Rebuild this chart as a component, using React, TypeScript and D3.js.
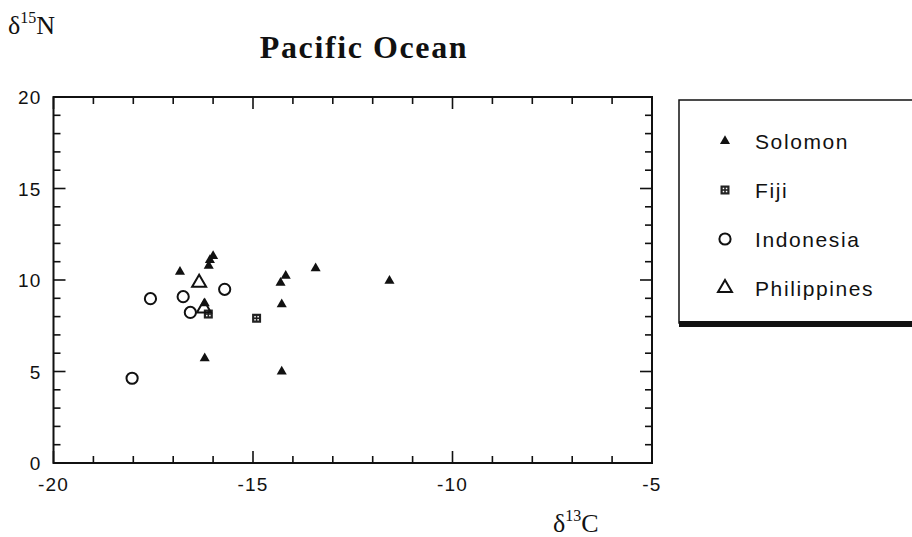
import React from "react";
import * as d3 from "d3";

const width = 912;
const height = 537;
const plot = { left: 53.5, right: 652, top: 97, bottom: 463 };

// delta 13C / delta 15N readings per group
const solomonC = [-16.83, -16.0, -16.08, -16.11, -16.21, -16.21, -14.18, -14.31, -13.43, -11.58, -14.28, -14.28];
const solomonN = [10.45, 11.31, 11.09, 10.77, 8.73, 5.72, 10.23, 9.85, 10.64, 9.95, 8.67, 4.99];
const fijiC = [-16.12, -14.91];
const fijiN = [8.14, 7.91];
const indonesiaC = [-15.71, -17.57, -16.75, -16.57, -18.03];
const indonesiaN = [9.49, 8.98, 9.09, 8.23, 4.63];
const philippinesC = [-16.35, -16.23];
const philippinesN = [9.85, 8.45];

const xTicks = [-20, -15, -10, -5];
const yTicks = [0, 5, 10, 15, 20];
const legendLabels = ["Solomon", "Fiji", "Indonesia", "Philippines"];

const x = d3.scaleLinear().domain([-20, -5]).range([plot.left, plot.right]);
const y = d3.scaleLinear().domain([0, 20]).range([plot.bottom, plot.top]);

const tri = (s: number) => d3.symbol().type(d3.symbolTriangle).size(s)();

function Marker({ kind, cx, cy }: { kind: string; cx: number; cy: number }) {
  if (kind === "Solomon") {
    return <path d={tri(44) as string} transform={`translate(${cx},${cy})`} fill="#111" />;
  }
  if (kind === "Fiji") {
    return (
      <g transform={`translate(${cx},${cy})`}>
        <rect x={-4.5} y={-4.5} width={9} height={9} fill="#222" />
        {[-2.3, 0.8].map(dx =>
          [-2.3, 0.8].map(dy => (
            <rect key={`${dx}${dy}`} x={dx} y={dy} width={1.5} height={1.5} fill="#fff" />
          ))
        )}
      </g>
    );
  }
  if (kind === "Indonesia") {
    return <circle cx={cx} cy={cy} r={5.6} fill="none" stroke="#111" strokeWidth={2} />;
  }
  return (
    <path d={tri(85) as string} transform={`translate(${cx},${cy})`} fill="none" stroke="#111" strokeWidth={2} />
  );
}

const groups = [
  { name: "Solomon", c: solomonC, n: solomonN },
  { name: "Fiji", c: fijiC, n: fijiN },
  { name: "Indonesia", c: indonesiaC, n: indonesiaN },
  { name: "Philippines", c: philippinesC, n: philippinesN },
];

export default function App() {
  const xMinor = d3.range(-20, -4, 1);
  const yMinor = d3.range(0, 21, 1);
  const sans = "Liberation Sans, Arial, sans-serif";
  const serif = "Liberation Serif, Times New Roman, serif";

  return (
    <svg
      width={width}
      height={height}
      style={{ position: "absolute", left: 0, top: 0, background: "#fff" }}
    >
      <rect width={width} height={height} fill="#fff" />

      {/* title and axis labels */}
      <text x={364} y={58} textAnchor="middle" fontFamily={serif} fontWeight="bold" fontSize={32} letterSpacing={1.6} fill="#111">
        Pacific Ocean
      </text>
      <text x={8} y={34} fontFamily={serif} fontSize={26} fill="#111">
        δ<tspan fontSize={16} dy={-11}>15</tspan>
        <tspan dy={11}>N</tspan>
      </text>
      <text x={553} y={532} fontFamily={serif} fontSize={26} fill="#111">
        δ<tspan fontSize={16} dy={-11}>13</tspan>
        <tspan dy={11}>C</tspan>
      </text>

      {/* frame */}
      <rect
        x={plot.left}
        y={plot.top}
        width={plot.right - plot.left}
        height={plot.bottom - plot.top}
        fill="none"
        stroke="#111"
        strokeWidth={2}
      />

      {/* ticks point inward on all four sides */}
      {xMinor.map(v => {
        const len = v % 5 === 0 ? 12 : 7;
        return (
          <g key={`x${v}`} stroke="#111" strokeWidth={1.6}>
            <line x1={x(v)} x2={x(v)} y1={plot.bottom} y2={plot.bottom - len} />
            <line x1={x(v)} x2={x(v)} y1={plot.top} y2={plot.top + len} />
          </g>
        );
      })}
      {yMinor.map(v => {
        const len = v % 5 === 0 ? 12 : 7;
        return (
          <g key={`y${v}`} stroke="#111" strokeWidth={1.6}>
            <line x1={plot.left} x2={plot.left + len} y1={y(v)} y2={y(v)} />
            <line x1={plot.right} x2={plot.right - len} y1={y(v)} y2={y(v)} />
          </g>
        );
      })}

      {xTicks.map(v => (
        <text key={`xl${v}`} x={x(v)} y={plot.bottom + 28} textAnchor="middle" fontFamily={sans} fontSize={19} letterSpacing={1.2} fill="#111">
          {v}
        </text>
      ))}
      {yTicks.map(v => (
        <text key={`yl${v}`} x={plot.left - 12} y={y(v) + 7} textAnchor="end" fontFamily={sans} fontSize={19} letterSpacing={1.2} fill="#111">
          {v}
        </text>
      ))}

      {/* points */}
      {groups.map(g =>
        g.c.map((c, i) => <Marker key={`${g.name}${i}`} kind={g.name} cx={x(c)} cy={y(g.n[i])} />)
      )}

      {/* legend */}
      <g>
        <rect x={679} y={100} width={260} height={223} fill="#fff" stroke="#111" strokeWidth={1.5} />
        <rect x={679} y={321} width={260} height={6} fill="#111" />
        {legendLabels.map((name, i) => {
          const cy = 141 + i * 49;
          return (
            <g key={name}>
              <Marker kind={name} cx={725} cy={cy} />
              <text x={755} y={cy + 8} fontFamily={sans} fontSize={21} letterSpacing={1.6} fill="#111">
                {name}
              </text>
            </g>
          );
        })}
      </g>
    </svg>
  );
}
